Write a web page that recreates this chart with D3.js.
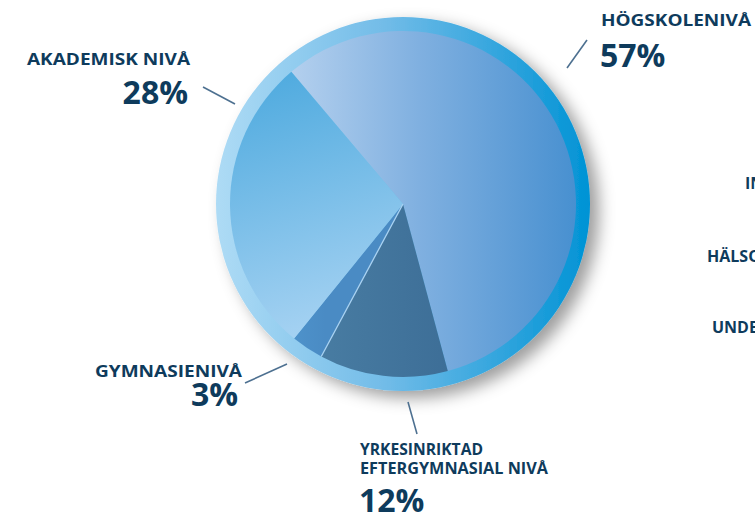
<!DOCTYPE html>
<html>
<head>
<meta charset="utf-8">
<script src="https://cdn.jsdelivr.net/npm/d3@7"></script>
<style>
  html, body { margin: 0; padding: 0; background: #ffffff; overflow: hidden; }
  svg { display: block; }
  text { font-family: "Open Sans", "DejaVu Sans", sans-serif; font-weight: 700; fill: #0e3b5c; }
</style>
</head>
<body>
<script>
// ---- data ----
const categories = ["HÖGSKOLENIVÅ", "YRKESINRIKTAD EFTERGYMNASIAL NIVÅ", "GYMNASIENIVÅ", "AKADEMISK NIVÅ"];
const values = [57, 12, 3, 28];
const valueLabels = ["57%", "12%", "3%", "28%"];
const sideLabels = ["INDUSTRI", "HÄLSO- OCH SJUKVÅRD", "UNDERVISNING"];

// ---- layout ----
const W = 755, H = 520;
const cx = 403, cy = 204;
const ringR = 187, pieR = 173;
const startDeg = -40.2;

const svg = d3.select("body").append("svg").attr("width", W).attr("height", H);
const defs = svg.append("defs");

const shadow = defs.append("filter").attr("id", "shadow")
  .attr("x", "-20%").attr("y", "-20%").attr("width", "150%").attr("height", "150%");
shadow.append("feDropShadow").attr("dx", 9).attr("dy", 7).attr("stdDeviation", 8)
  .attr("flood-color", "#000").attr("flood-opacity", 0.38);

// gradients in coordinates relative to the pie centre
function lin(id, x1, y1, x2, y2, stops) {
  const g = defs.append("linearGradient").attr("id", id)
    .attr("gradientUnits", "userSpaceOnUse")
    .attr("x1", x1).attr("y1", y1).attr("x2", x2).attr("y2", y2);
  stops.forEach(s => g.append("stop").attr("offset", s[0]).attr("stop-color", s[1]));
}
lin("gRing", -ringR, 0, ringR, 0, [[0, "#aedbf5"], [0.45, "#72bce8"], [1, "#0093d5"]]);
lin("gHog", -113, 0, pieR, 0, [[0, "#b4d0ee"], [0.45, "#80b0e0"], [1, "#4890d0"]]);
lin("gAka", -143, -124, -63, 136, [[0, "#50abdf"], [1, "#aad4f3"]]);
lin("gYrk", -83, 0, 47, 0, [[0, "#487ca2"], [1, "#3d6e97"]]);
lin("gGym", -113, 0, -78, 0, [[0, "#4e93cb"], [1, "#4a8bc4"]]);

const fills = ["url(#gHog)", "url(#gYrk)", "url(#gGym)", "url(#gAka)"];

const g = svg.append("g").attr("transform", `translate(${cx},${cy})`);

g.append("circle").attr("r", ringR).attr("fill", "url(#gRing)").attr("filter", "url(#shadow)");

const pie = d3.pie().sort(null)
  .startAngle(startDeg * Math.PI / 180)
  .endAngle(startDeg * Math.PI / 180 + 2 * Math.PI);
const arcs = pie(values);
const arc = d3.arc().innerRadius(0).outerRadius(pieR);

g.selectAll("path.slice").data(arcs).join("path")
  .attr("class", "slice")
  .attr("d", arc)
  .attr("fill", (d, i) => fills[i]);

// light separator between Yrkes and Gymnasie
const sepA = arcs[1].endAngle;
g.append("line")
  .attr("x1", 0).attr("y1", 0)
  .attr("x2", pieR * Math.sin(sepA)).attr("y2", -pieR * Math.cos(sepA))
  .attr("stroke", "#a9d2f2").attr("stroke-width", 1.3);

// ---- labels ----
// name lines: [x, baseline y, rendered width]
const labelLayout = [
  { lines: [[601, 26, 150]], val: [600, 67], anchor: "start", lead: [567, 68, 587, 40] },
  { lines: [[360, 455, 123], [360, 474, 188]], val: [359, 512], anchor: "start", lead: [408, 402, 417, 434] },
  { lines: [[95, 377, 147]], val: [238, 406], anchor: "end", lead: [245, 383, 287, 364] },
  { lines: [[27, 65, 163]], val: [188, 104], anchor: "end", lead: [203, 87, 235, 104] }
];
const nameLines = [["HÖGSKOLENIVÅ"], ["YRKESINRIKTAD", "EFTERGYMNASIAL NIVÅ"], ["GYMNASIENIVÅ"], ["AKADEMISK NIVÅ"]];

categories.forEach((c, i) => {
  const L = labelLayout[i];
  nameLines[i].forEach((t, j) => {
    svg.append("text").attr("x", L.lines[j][0]).attr("y", L.lines[j][1])
      .attr("font-size", 16.5)
      .attr("textLength", L.lines[j][2]).attr("lengthAdjust", "spacingAndGlyphs")
      .text(t);
  });
  svg.append("text").attr("x", L.val[0]).attr("y", L.val[1])
    .attr("text-anchor", L.anchor).attr("font-size", 32)
    .text(valueLabels[i]);
  svg.append("line").attr("x1", L.lead[0]).attr("y1", L.lead[1]).attr("x2", L.lead[2]).attr("y2", L.lead[3])
    .attr("stroke", "#4d7090").attr("stroke-width", 1.6);
});

const sidePos = [[745, 189], [707, 262], [712, 333]];
sideLabels.forEach((t, i) => {
  svg.append("text").attr("x", sidePos[i][0]).attr("y", sidePos[i][1])
    .attr("font-size", 16).text(t);
});
</script>
</body>
</html>
